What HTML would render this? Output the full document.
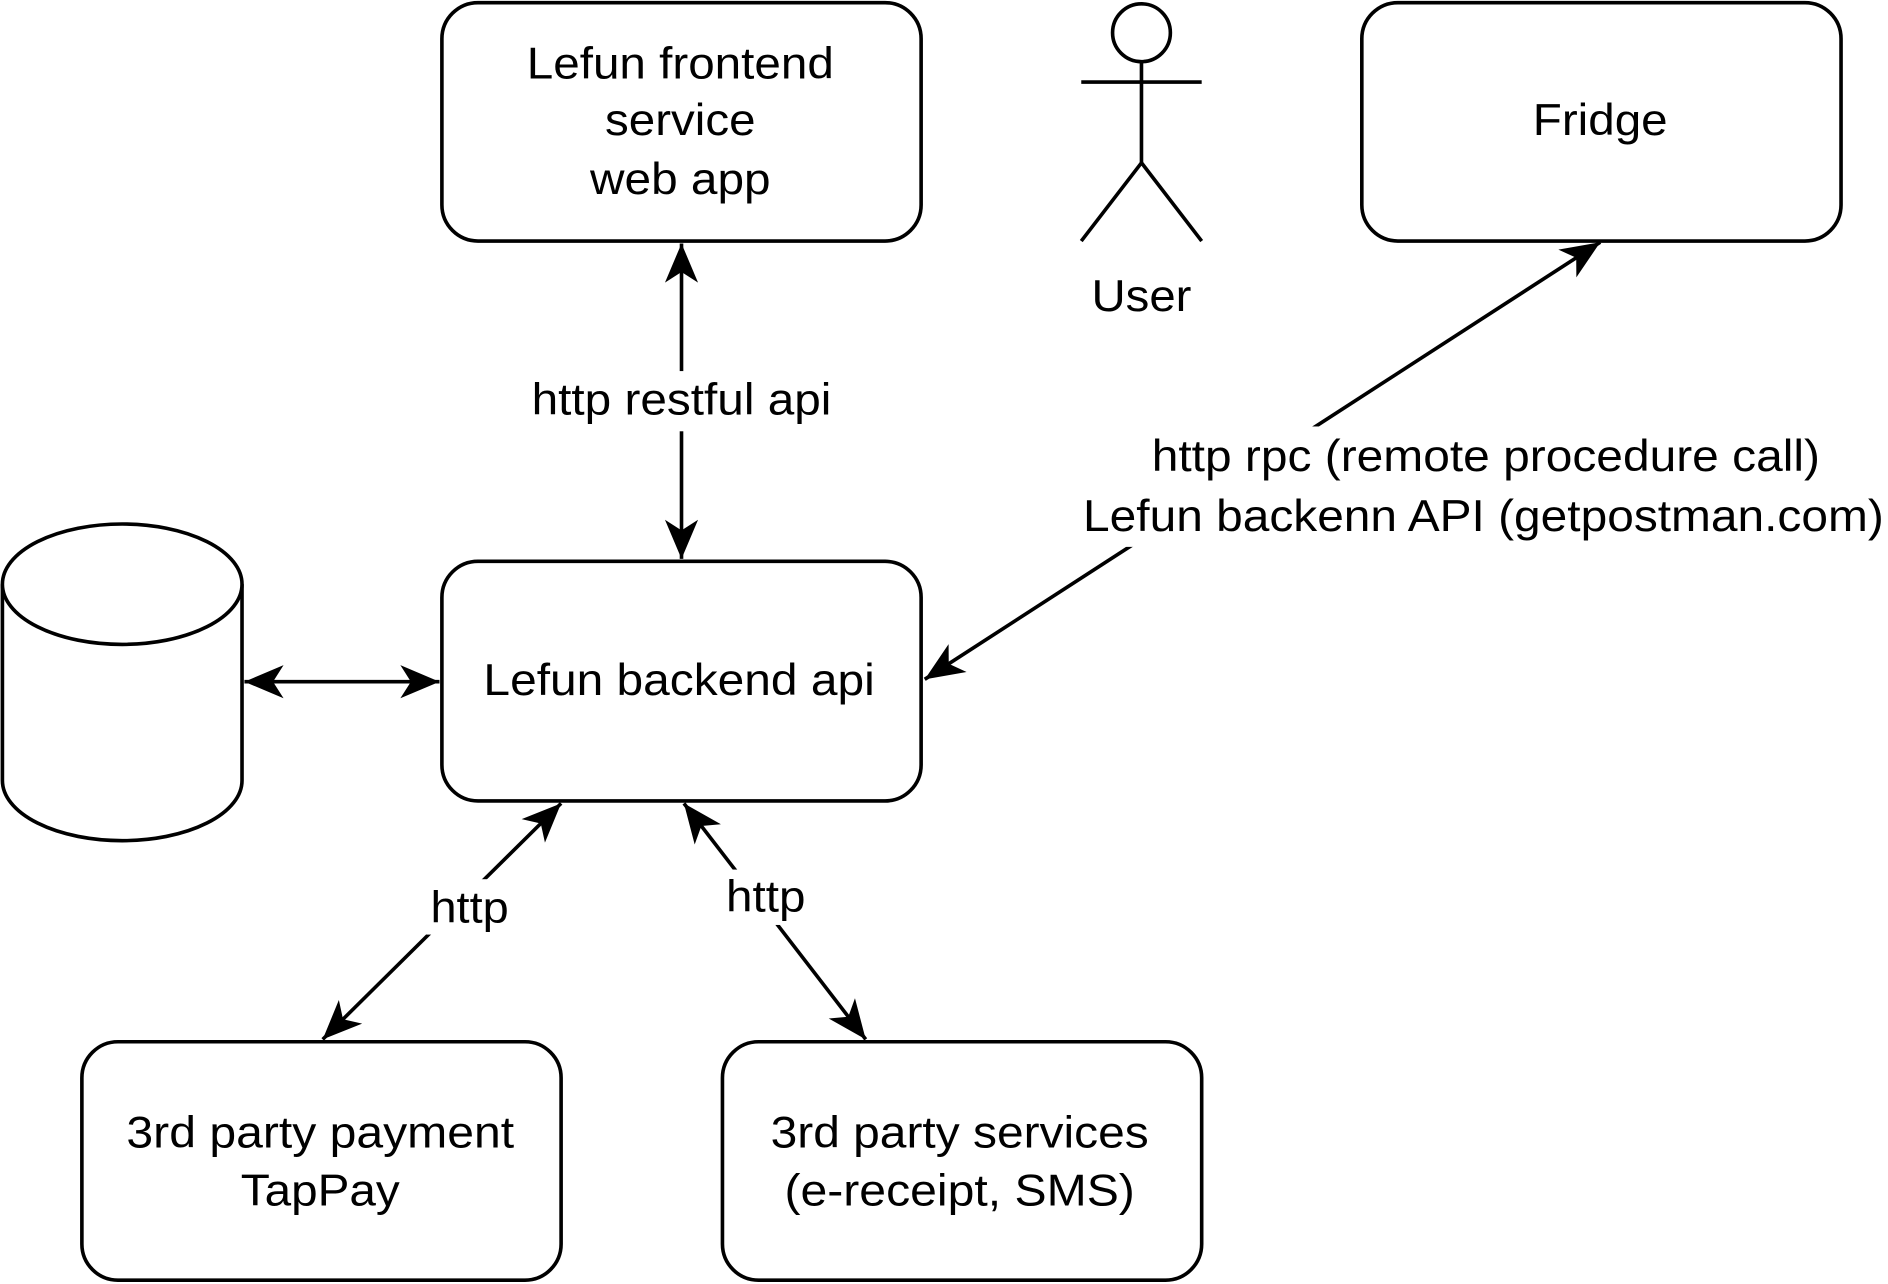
<!DOCTYPE html>
<html><head><meta charset="utf-8"><style>
html,body{margin:0;padding:0;background:#fff;}
svg{display:block;}
text{font-family:"Liberation Sans",sans-serif;font-size:37px;fill:#000;text-anchor:middle;}
</style></head><body>
<svg width="1888" height="1284" viewBox="0 0 1568 1066" xmlns="http://www.w3.org/2000/svg">
<defs>
<marker id="a" markerUnits="userSpaceOnUse" markerWidth="40" markerHeight="40" refX="0" refY="0" viewBox="-30 -15 32 30" orient="auto-start-reverse">
<path d="M0,0 L-26,-11 L-19,0 L-26,11 Z" fill="#000"/>
</marker>
</defs>
<g fill="#fff" stroke="#000" stroke-width="3">
<rect x="367" y="2" width="398" height="198" rx="30"/>
<rect x="1131" y="2" width="398" height="198" rx="30"/>
<rect x="367" y="466" width="398" height="199" rx="30"/>
<rect x="68" y="865" width="398" height="198" rx="30"/>
<rect x="600" y="865" width="398" height="198" rx="30"/>
<path d="M2,485 L2,648 A99.5,50 0 0 0 201,648 L201,485"/>
<ellipse cx="101.5" cy="485" rx="99.5" ry="50"/>
<circle cx="948" cy="27" r="24"/>
</g>
<g stroke="#000" stroke-width="3" fill="none">
<line x1="948" y1="51" x2="948" y2="135"/>
<line x1="898" y1="68" x2="998" y2="68"/>
<polyline points="898,200 948,135 998,200"/>
<line x1="566" y1="202" x2="566" y2="464" marker-start="url(#a)" marker-end="url(#a)"/>
<line x1="203" y1="566" x2="365" y2="566" marker-start="url(#a)" marker-end="url(#a)"/>
<line x1="1329" y1="201" x2="768" y2="564" marker-start="url(#a)" marker-end="url(#a)"/>
<line x1="466" y1="667" x2="268" y2="863" marker-start="url(#a)" marker-end="url(#a)"/>
<line x1="568" y1="667" x2="719" y2="863" marker-start="url(#a)" marker-end="url(#a)"/>
</g>
<g fill="#fff">
<rect x="436" y="308" width="260" height="50"/>
<rect x="895" y="354" width="673" height="100"/>
<rect x="354" y="730" width="72" height="46"/>
<rect x="600" y="722" width="72" height="46"/>
</g>
<g lengthAdjust="spacingAndGlyphs">
<text x="565" y="65" textLength="255" lengthAdjust="spacingAndGlyphs">Lefun frontend</text>
<text x="565" y="112" textLength="125" lengthAdjust="spacingAndGlyphs">service</text>
<text x="565" y="161" textLength="150" lengthAdjust="spacingAndGlyphs">web app</text>
<text x="1329" y="112" textLength="112" lengthAdjust="spacingAndGlyphs">Fridge</text>
<text x="948" y="258" textLength="83" lengthAdjust="spacingAndGlyphs">User</text>
<text x="566" y="344" textLength="249" lengthAdjust="spacingAndGlyphs">http restful api</text>
<text x="1234" y="391" textLength="555" lengthAdjust="spacingAndGlyphs">http rpc (remote procedure call)</text>
<text x="1232" y="441" textLength="665" lengthAdjust="spacingAndGlyphs">Lefun backenn API (getpostman.com)</text>
<text x="564" y="577" textLength="325" lengthAdjust="spacingAndGlyphs">Lefun backend api</text>
<text x="390" y="766" textLength="65" lengthAdjust="spacingAndGlyphs">http</text>
<text x="636" y="757" textLength="66" lengthAdjust="spacingAndGlyphs">http</text>
<text x="266" y="953" textLength="322" lengthAdjust="spacingAndGlyphs">3rd party payment</text>
<text x="266" y="1001" textLength="132" lengthAdjust="spacingAndGlyphs">TapPay</text>
<text x="797" y="953" textLength="314" lengthAdjust="spacingAndGlyphs">3rd party services</text>
<text x="797" y="1001" textLength="291" lengthAdjust="spacingAndGlyphs">(e-receipt, SMS)</text>
</g>
</svg>
</body></html>
